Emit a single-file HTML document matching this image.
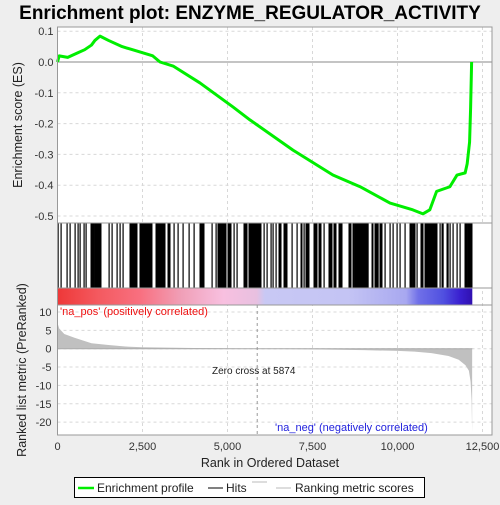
<!DOCTYPE html>
<html><head><meta charset="utf-8"><style>
body{margin:0;background:#eeeeee;font-family:"Liberation Sans",sans-serif}
svg text{font-family:"Liberation Sans",sans-serif}
</style></head><body>
<svg id="c" width="500" height="500" viewBox="0 0 500 500" xmlns="http://www.w3.org/2000/svg">
<rect width="500" height="500" fill="#eeeeee"/>
<text x="250" y="19" text-anchor="middle" font-size="19" font-weight="bold">Enrichment plot: ENZYME_REGULATOR_ACTIVITY</text>
<g id="g"></g>
</svg>
<script>
const esRanks=[0,50,300,600,800,1000,1100,1250,1500,1900,2230,2800,3015,3400,4190,5160,5660,6926,8100,8900,9780,10450,10750,10950,11150,11540,11750,11990,12050,12120,12150,12180];
const esVals=[0,0.02,0.015,0.03,0.04,0.055,0.07,0.084,0.07,0.05,0.039,0.02,0,-0.013,-0.068,-0.146,-0.188,-0.286,-0.367,-0.405,-0.458,-0.48,-0.493,-0.48,-0.42,-0.405,-0.367,-0.36,-0.33,-0.26,-0.15,0];
const hitRanges=[[15,15],[103,103],[279,279],[368,368],[515,515],[603,603],[662,662],[779,779],[838,838],[985,1073],[1103,1279],[1515,1515],[1603,1603],[1750,1750],[1838,1838],[1926,1926],[2132,2338],[2426,2779],[2897,3162],[3250,3309],[3426,3426],[3544,3544],[3691,3691],[3868,3868],[4015,4015],[4191,4309],[4544,4544],[4662,4662],[4720,4809],[4838,4956],[5015,5103],[5191,5191],[5279,5279],[5485,5574],[5632,5985],[6074,6074],[6162,6162],[6279,6279],[6338,6338],[6426,6426],[6515,6574],[6662,6750],[6897,6897],[7044,7044],[7162,7191],[7250,7250],[7309,7397],[7544,7632],[7691,7750],[7838,7838],[7985,8073],[8132,8191],[8279,8368],[8573,8632],[8691,8720],[8750,8809],[8838,8956],[8985,9103],[9132,9132],[9250,9279],[9338,9397],[9426,9426],[9485,9544],[9632,9632],[9779,9779],[9868,9868],[9985,9985],[10073,10073],[10220,10220],[10368,10426],[10456,10515],[10573,10573],[10691,10750],[10809,10897],[10926,11162],[11250,11250],[11309,11309],[11338,11338],[11456,11456],[11485,11485],[11544,11544],[11632,11632],[11750,11750],[11838,11838],[11985,12044],[12074,12191]];
const metricRanks=[0,50,200,500,1000,1500,2000,2500,4000,5874,7500,9000,10000,10500,11000,11500,11800,12000,12100,12150,12180,12195,12196];
const metricVals=[7,5.5,4,3,1.5,1,0.6,0.4,0.2,0,-0.2,-0.4,-0.6,-0.8,-1.2,-2,-3,-4.5,-6,-9,-14,-23,0];
const xTicks=[0,2500,5000,7500,10000,12500];
const xTickLabels=["0","2,500","5,000","7,500","10,000","12,500"];
const esTicks=[0.1,0,-0.1,-0.2,-0.3,-0.4,-0.5];
const esTickLabels=["0.1","0.0","-0.1","-0.2","-0.3","-0.4","-0.5"];
const mTicks=[10,5,0,-5,-10,-15,-20];
const zeroCross=5874;

const L=57.5,R=492,T=27,B1=223,B2=288,B3=305,B4=435;
const X=r=>L+r*0.034;
const Yes=v=>62-v*308;
const Ym=v=>348.7-v*3.67;
const g=document.getElementById('g');
const NS='http://www.w3.org/2000/svg';
function el(t,a,p){const e=document.createElementNS(NS,t);for(const k in a)e.setAttribute(k,a[k]);(p||g).appendChild(e);return e;}

// panel backgrounds
let e;
e=el('rect',{x:L,y:T,width:R-L,height:B4-T,fill:'#fff'});


// grid
xTicks.forEach(t=>{
  e=el('line',{x1:X(t),x2:X(t),y1:T,y2:B4,stroke:'#d8d8d8','stroke-dasharray':'3,3'});
  
  
});
esTicks.forEach(t=>{
  e=el('line',{x1:L,x2:R,y1:Yes(t),y2:Yes(t),stroke:'#d8d8d8','stroke-dasharray':'3,3'});
  
  
});
mTicks.forEach(t=>{
  e=el('line',{x1:L,x2:R,y1:Ym(t),y2:Ym(t),stroke:'#d8d8d8','stroke-dasharray':'3,3'});
  
  
});
// hit panel white
e=el('rect',{x:L,y:B1,width:R-L,height:B2-B1,fill:'#fff'});


// es zero line
e=el('line',{x1:L,x2:R,y1:Yes(0),y2:Yes(0),stroke:'#888'});


// ES curve
e=el('polyline',{points:esRanks.map((r,i)=>X(r)+','+Yes(esVals[i])).join(' '),fill:'none',stroke:'#00ee00','stroke-width':3,'stroke-linejoin':'round'});


// hits
hitRanges.forEach(h=>{
  e=el('rect',{x:X(h[0])-0.5,y:B1,width:Math.max(1.2,X(h[1])-X(h[0])+1),height:B2-B1,fill:'#000'});
  
  
});
// color bar
const defs=el('defs',{});
const lg=el('linearGradient',{id:'cb',x1:0,x2:1,y1:0,y2:0},defs);
[[0,'#ee3838'],[0.1,'#f45a60'],[0.2,'#f87080'],[0.3,'#f0a0b8'],[0.4,'#f8c0e0'],[0.48,'#e8c0e0'],[0.5,'#c8c8f4'],[0.7,'#c4c4f4'],[0.84,'#a8a8f0'],[0.87,'#7070e8'],[0.93,'#5050e0'],[0.97,'#3a20d0'],[1,'#3010b0']].forEach(s=>el('stop',{offset:s[0],'stop-color':s[1]},lg));
e=el('rect',{x:L,y:B2,width:X(12200)-L,height:B3-B2,fill:'url(#cb)'});


// metric area
let pts=[X(0)+','+Ym(0)];
metricRanks.forEach((r,i)=>pts.push(X(r)+','+Ym(metricVals[i])));
e=el('polygon',{points:pts.join(' '),fill:'#c0c0c0'});


e=el('line',{x1:L,x2:X(12200),y1:Ym(0),y2:Ym(0),stroke:'#aaa'});


e=el('line',{x1:X(zeroCross),x2:X(zeroCross),y1:B3,y2:B4,stroke:'#999','stroke-dasharray':'3,3'});


// panel borders
[[T,B1],[B1,B2],[B2,B3],[B3,B4]].forEach(p=>{
  e=el('rect',{x:L,y:p[0],width:R-L,height:p[1]-p[0],fill:'none',stroke:'#999'});
  
  
});
// ticks & labels
function txt(x,y,s,a,fill,size){const t=el('text',{x:x,y:y,'text-anchor':a||'middle','font-size':size||11,fill:fill||'#333'});t.textContent=s;return t;}
esTicks.forEach((t,i)=>{
  e=txt(L-4,Yes(t)+4,esTickLabels[i],'end');
  
  
});
mTicks.forEach(t=>{
  e=txt(L-6,Ym(t)+4,String(t),'end');
  
  
});
xTicks.forEach((t,i)=>{
  e=txt(X(t),450,xTickLabels[i]);
  
  
});
e=txt(270,467,'Rank in Ordered Dataset','middle','#222',12.5);


e=el('text',{x:0,y:0,'text-anchor':'middle','font-size':12.5,fill:'#222',transform:'translate(22,125) rotate(-90)'});e.textContent='Enrichment score (ES)';


e=el('text',{x:0,y:0,'text-anchor':'middle','font-size':12.5,fill:'#222',transform:'translate(26,370) rotate(-90)'});e.textContent='Ranked list metric (PreRanked)';


e=txt(60,315,"'na_pos' (positively correlated)",'start','#ee1111',11);


e=txt(275,431,"'na_neg' (negatively correlated)",'start','#2222dd',11);


e=txt(212,374,'Zero cross at 5874','start','#222',10);


// legend
const lgd=el('g',{});


el('rect',{x:74.5,y:477.5,width:350,height:20,fill:'#fff',stroke:'#000'},lgd);
el('line',{x1:78,x2:94,y1:488,y2:488,stroke:'#00ee00','stroke-width':2.5},lgd);
e=el('text',{x:97,y:492,'font-size':12,fill:'#222'},lgd);e.textContent='Enrichment profile';


el('line',{x1:208,x2:223,y1:488,y2:488,stroke:'#000','stroke-width':1},lgd);
e=el('text',{x:226,y:492,'font-size':12,fill:'#222'},lgd);e.textContent='Hits';


el('line',{x1:252,x2:267,y1:482,y2:482,stroke:'#bbb'},lgd);
el('line',{x1:276,x2:291,y1:488,y2:488,stroke:'#bbb'},lgd);
e=el('text',{x:295,y:492,'font-size':12,fill:'#222'},lgd);e.textContent='Ranking metric scores';


</script>
</body></html>
